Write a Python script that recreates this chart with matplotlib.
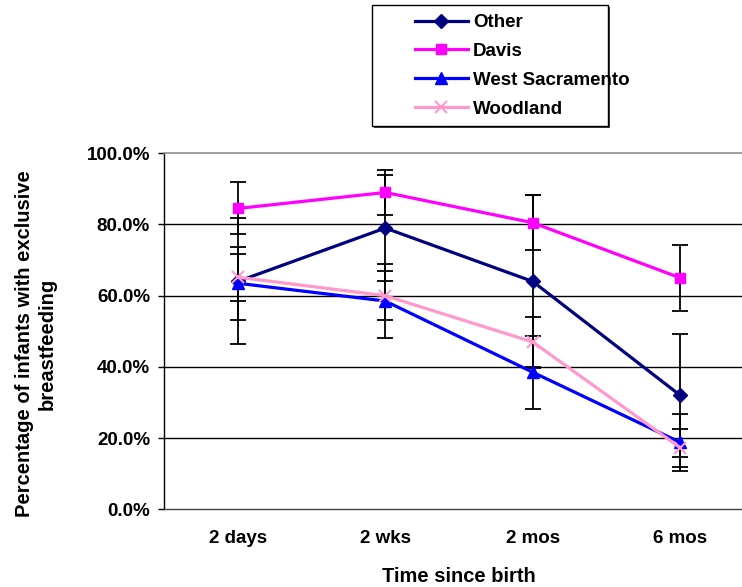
import matplotlib
matplotlib.use("Agg")
import matplotlib.pyplot as plt
from matplotlib.patches import Rectangle
from matplotlib.ticker import FuncFormatter
import numpy as np

plt.rcParams['font.family'] = ['Liberation Sans', 'DejaVu Sans']
plt.rcParams['font.weight'] = 'bold'

categories = ["2 days", "2 wks", "2 mos", "6 mos"]

other = [64.0, 79.0, 64.0, 32.0]
other_err = [17.7, 15.0, 24.2, 17.3]

davis = [84.5, 89.0, 80.5, 65.0]
davis_err = [7.3, 6.3, 7.8, 9.3]

west_sac = [63.5, 58.5, 38.5, 18.8]
west_sac_err = [10.2, 10.3, 10.3, 8.1]

woodland = [65.2, 60.0, 47.0, 17.3]
woodland_err = [6.6, 6.8, 7.0, 5.3]

series = [
    ("Other", other, other_err, "#000080", "D", 7, "#000080"),
    ("Davis", davis, davis_err, "#FF00FF", "s", 7, "#FF00FF"),
    ("West Sacramento", west_sac, west_sac_err, "#0000FF", "^", 8, "#0000FF"),
    ("Woodland", woodland, woodland_err, "#FF99CC", "x", 8, "#FF99CC"),
]

W, H = 742, 587
fig = plt.figure(figsize=(W / 100, H / 100), dpi=100)
ax = fig.add_axes([164 / W, 77.7 / H, 590 / W, 356 / H])

x = np.arange(len(categories))

# error bars underneath the series lines
for name, vals, err, col, mk, ms, mc in series:
    ax.errorbar(x, vals, yerr=err, fmt='none', ecolor='black',
                elinewidth=1.3, capsize=6, capthick=1.3, zorder=2)

handles = []
for name, vals, err, col, mk, ms, mc in series:
    h, = ax.plot(x, vals, color=col, lw=2.3, marker=mk, markersize=ms,
                 markerfacecolor=mc, markeredgecolor=mc,
                 markeredgewidth=1.5 if mk == 'x' else 1.0,
                 label=name, zorder=3, clip_on=False)
    handles.append(h)

ax.set_xlim(-0.5, 3.5)
ax.set_ylim(0, 100)
ax.set_yticks([0, 20, 40, 60, 80, 100])
ax.yaxis.set_major_formatter(FuncFormatter(lambda v, p: f"{v:.1f}%"))
ax.set_xticks(x)
ax.set_xticklabels(categories)

for yv in [20, 40, 60, 80]:
    ax.axhline(yv, color='black', lw=1.0, zorder=1)

ax.spines['top'].set_color('#909090')
ax.spines['top'].set_linewidth(1.2)
ax.spines['right'].set_visible(False)
ax.spines['left'].set_color('black')
ax.spines['left'].set_linewidth(1.0)
ax.spines['bottom'].set_color('#404040')
ax.spines['bottom'].set_linewidth(1.0)

ax.tick_params(axis='y', direction='out', length=4, width=1, pad=6,
               labelsize=13.5)
ax.tick_params(axis='x', length=0, pad=15, labelsize=13.5)

ax.set_xlabel("Time since birth", fontsize=14.5, fontweight='bold', labelpad=14)
ax.set_ylabel("Percentage of infants with exclusive\nbreastfeeding",
              fontsize=14.5, fontweight='bold', linespacing=1.25)
ax.yaxis.set_label_coords(-0.182, 0.466)

# legend box
fig.patches.append(Rectangle((374 / W, 1 - 128 / H), 236 / W, 121 / H,
                             transform=fig.transFigure, facecolor='#404040',
                             edgecolor='none', zorder=0))
fig.patches.append(Rectangle((372 / W, 1 - 126 / H), 236 / W, 121 / H,
                             transform=fig.transFigure, facecolor='white',
                             edgecolor='black', lw=1.0, zorder=1))
leg = fig.legend(handles=handles, loc='upper left',
                 bbox_to_anchor=(402 / W, 1 - 1 / H), frameon=False,
                 fontsize=13.5, handlelength=2.8, handletextpad=0.3,
                 labelspacing=0.62, borderpad=0.2)
for t in leg.get_texts():
    t.set_fontweight('bold')

fig.savefig("out.png", dpi=100)
